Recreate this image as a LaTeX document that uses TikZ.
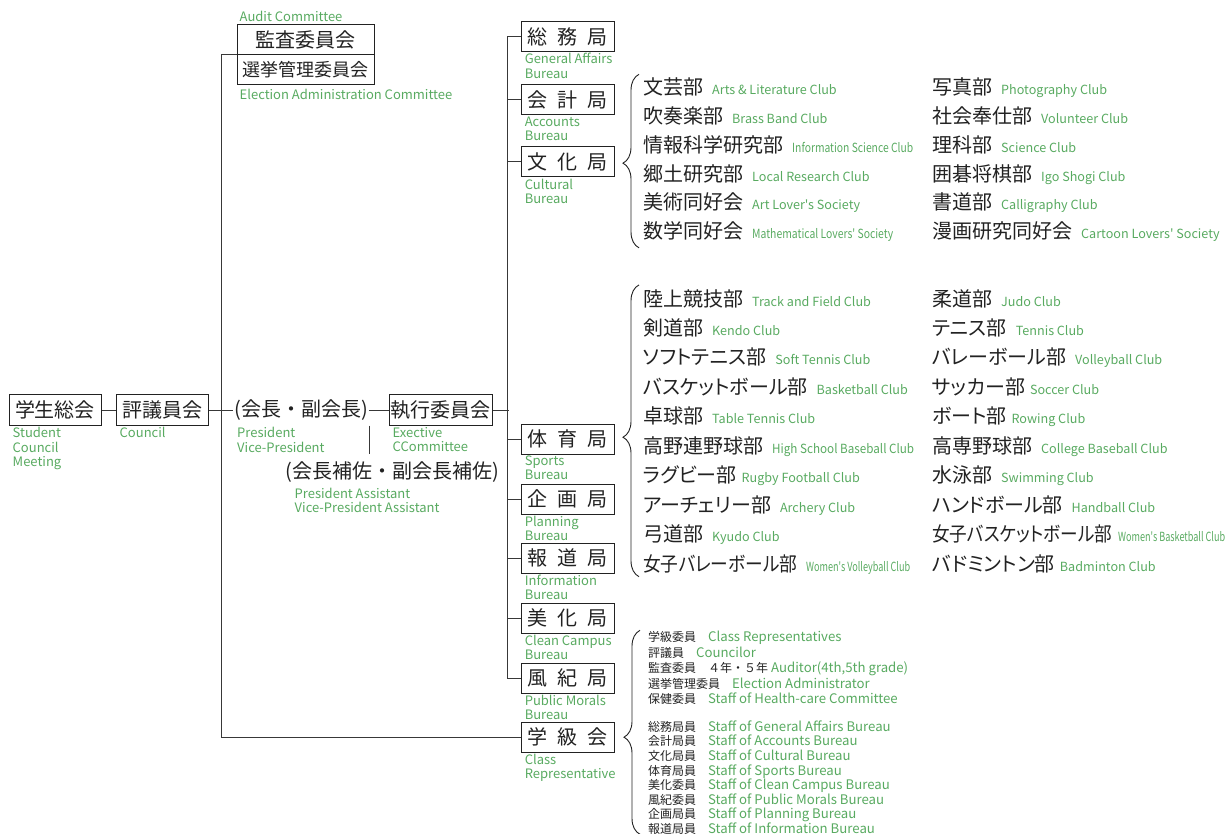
\documentclass[tikz,border=0pt]{standalone}
\usepackage{fontspec}
\setmainfont{Noto Sans CJK JP}
\newfontfamily\jpprop{Noto Sans CJK JP}[RawFeature=+palt]
\usepackage{graphicx}
\usetikzlibrary{matrix,positioning,calc,decorations.pathreplacing}
\setlength{\parindent}{0pt}

\definecolor{engreen}{RGB}{88,170,96}
\definecolor{ink}{RGB}{34,34,34}

\newcommand\eng[2][12.6]{{\color{engreen}\fontsize{#1}{#1}\selectfont #2}}
\newcommand\engw[2]{{\color{engreen}\fontsize{12.6}{12.6}\selectfont\resizebox{#1}{\height}{#2}}}
\newcommand\club[3][9pt]{#2\hspace{#1}\eng{#3}}
\newcommand\staff[2]{#1\quad\eng[13.2]{#2}}
\newcommand\kyoku[3]{#1\hspace{10pt}#2\hspace{10pt}#3}

\begin{document}
\begin{tikzpicture}[x=1pt, y=-1pt,
  org/.style={draw=ink, line width=1pt, text=ink, inner sep=0pt,
    font=\fontsize{20}{24}\selectfont, minimum height=31pt},
  bureau/.style={org, minimum width=93pt, minimum height=30pt},
  lab/.style={anchor=north west, inner sep=1pt, align=left, text=engreen,
    font=\fontsize{13}{14.5}\selectfont},
  plain/.style={text=ink, inner sep=1pt, font=\fontsize{20}{24}\selectfont},
  conn/.style={draw=ink!90, line width=1pt},
  clubs/.style={matrix of nodes, anchor=north west, inner sep=0pt,
    nodes={anchor=base west, inner sep=0pt, text=ink, font=\jpprop\fontsize{20}{24}\selectfont}},
  brc/.style={decorate, decoration={brace, amplitude=16pt, aspect=#1}, draw=ink, line width=0.9pt}]

\useasboundingbox (0,0) rectangle (1232,834);

% left side
\node[org, minimum width=92pt] (taikai) at (55,410) {学生総会};
\node[lab] (taikai-en) at ([xshift=3pt]taikai.south west) {Student\\Council\\Meeting};
\node[org, minimum width=92pt] (hyogi) at (162,410) {評議員会};
\node[lab] (hyogi-en) at ([xshift=3pt]hyogi.south west) {Council};
\node[plain] (kaicho) at (301,410) {(会長・副会長)};
\node[lab] (kaicho-en) at ($(kaicho.west |- taikai.south)+(3,0)$) {President\\Vice-President};
\node[org, minimum width=103pt] (shikko) at (440.5,410) {執行委員会};
\node[lab] (shikko-en) at ([xshift=3pt]shikko.south west) {Exective\\CCommittee};
\node[plain] (hosa) at (392.5,472) {(会長補佐・副会長補佐)};
\node[lab] (hosa-en) at ($(hosa.south west)+(9,3)$) {President Assistant\\Vice-President Assistant};

% committees
\node[org, minimum width=137pt, minimum height=30pt] (kansa) at (305.5,40) {監査委員会};
\node[org, minimum width=137pt, minimum height=30pt, font=\fontsize{18}{22}\selectfont] (senkyo) at (305.5,70) {選挙管理委員会};
\node[lab, anchor=south west] (kansa-en) at ([xshift=2pt,yshift=2pt]kansa.north west) {Audit Committee};
\node[lab] (senkyo-en) at ([xshift=2pt,yshift=-2pt]senkyo.south west) {Election Administration Committee};

% bureaus
\foreach \name/\y/\ja/\enlab in {
    soumu/36.7/{\kyoku{総}{務}{局}}/{General Affairs\\Bureau},
    kaikei/100/{\kyoku{会}{計}{局}}/{Accounts\\Bureau},
    bunka/162/{\kyoku{文}{化}{局}}/{Cultural\\Bureau},
    taiiku/439/{\kyoku{体}{育}{局}}/{Sports\\Bureau},
    kikaku/499/{\kyoku{企}{画}{局}}/{Planning\\Bureau},
    houdou/558/{\kyoku{報}{道}{局}}/{Information\\Bureau},
    bika/618/{\kyoku{美}{化}{局}}/{Clean Campus\\Bureau},
    fuki/678/{\kyoku{風}{紀}{局}}/{Public Morals\\Bureau},
    gakkyu/737/{\kyoku{学}{級}{会}}/{Class\\Representative}} {
  \node[bureau] (\name) at (567.6,\y) {\ja};
  \node[lab] (\name-en) at ([xshift=3pt]\name.south west) {\enlab};
}

% connectors
\draw[conn] (taikai) -- (hyogi);
\draw[conn] (hyogi) -- (kaicho);
\draw[conn] (kaicho) -- (shikko);
\draw[conn] ($(kaicho.south east)+(1,4)$) -- ($(kaicho.south east |- hosa.north)+(1,-6)$);
\draw[conn] (senkyo.north west) -- ++(-15,0) coordinate (trunk) |- (gakkyu.west);
\draw[conn] (shikko.east) -- ++(16,0) coordinate (bus);
\draw[conn] (soumu.west) -- ++(-13,0) |- (fuki.west);
\foreach \name in {kaikei,bunka,taiiku,kikaku,houdou,bika}
  \draw[conn] (\name.west) -- ++(-13,0);

% cultural clubs
\matrix (cul) [clubs, nodes={text height=20pt, text depth=8.86pt}] at (643,74.3) {
  \club{文芸部}{Arts \& Literature Club}\\
  \club{吹奏楽部}{Brass Band Club}\\
  情報科学研究部\hspace{9pt}\engw{121pt}{Information Science Club}\\
  \club{郷土研究部}{Local Research Club}\\
  \club{美術同好会}{Art Lover's Society}\\
  数学同好会\hspace{9pt}\engw{141pt}{Mathematical Lovers' Society}\\
};
\matrix (cul-r) [clubs, nodes={text height=20pt, text depth=8.86pt}] at (932,74.3) {
  \club{写真部}{Photography Club}\\
  \club{社会奉仕部}{Volunteer Club}\\
  \club{理科部}{Science Club}\\
  \club{囲碁将棋部}{Igo Shogi Club}\\
  \club{書道部}{Calligraphy Club}\\
  \club{漫画研究同好会}{Cartoon Lovers' Society}\\
};

% sports clubs
\matrix (spt) [clubs, nodes={text height=20pt, text depth=9.44pt}] at (643,285.9) {
  \club{陸上競技部}{Track and Field Club}\\
  \club{剣道部}{Kendo Club}\\
  \club{ソフトテニス部}{Soft Tennis Club}\\
  \club{バスケットボール部}{Basketball Club}\\
  \club{卓球部}{Table Tennis Club}\\
  高野連野球部\hspace{9pt}\engw{142pt}{High School Baseball Club}\\
  \club[5pt]{ラグビー部}{Rugby Football Club}\\
  \club{アーチェリー部}{Archery Club}\\
  \club{弓道部}{Kyudo Club}\\
  \resizebox{154pt}{\height}{女子バレーボール部}\hspace{9pt}\engw{104pt}{Women's Volleyball Club}\\
};
\matrix (spt-r) [clubs, nodes={text height=20pt, text depth=9.44pt}] at (932,285.9) {
  \club{柔道部}{Judo Club}\\
  \club{テニス部}{Tennis Club}\\
  \club{バレーボール部}{Volleyball Club}\\
  \club[5pt]{サッカー部}{Soccer Club}\\
  \club[5pt]{ボート部}{Rowing Club}\\
  \club{高専野球部}{College Baseball Club}\\
  \club{水泳部}{Swimming Club}\\
  \club{ハンドボール部}{Handball Club}\\
  \resizebox{180pt}{\height}{女子バスケットボール部}\hspace{6pt}\engw{107pt}{Women's Basketball Club}\\
  \club[5pt]{バドミントン部}{Badminton Club}\\
};

% class representatives
\matrix (cls) [clubs, nodes={text height=11pt, text depth=3.6pt, font=\fontsize{12}{14}\selectfont}] at (648,630.3) {
  \staff{学級委員}{Class Representatives}\\[1pt]
  \staff{評議員}{Councilor}\\[1pt]
  監査委員\quad ４年・５年\hspace{3pt}\eng[13.2]{Auditor(4th,5th grade)}\\[1pt]
  \staff{選挙管理委員}{Election Administrator}\\[1pt]
  \staff{保健委員}{Staff of Health-care Committee}\\[12.8pt]
  \staff{総務局員}{Staff of General Affairs Bureau}\\
  \staff{会計局員}{Staff of Accounts Bureau}\\
  \staff{文化局員}{Staff of Cultural Bureau}\\
  \staff{体育局員}{Staff of Sports Bureau}\\
  \staff{美化委員}{Staff of Clean Campus Bureau}\\
  \staff{風紀委員}{Staff of Public Morals Bureau}\\
  \staff{企画局員}{Staff of Planning Bureau}\\
  \staff{報道局員}{Staff of Information Bureau}\\
};

% braces
\draw[brc=0.488] ($(cul.south west)+(-4,0)$) -- ($(cul.north west)+(-4,0)$);
\draw[brc=0.478] ($(spt.south west)+(-4,-4)$) -- ($(spt.north west)+(-4,-1)$);
\draw[brc=0.476] ($(cls.south west)+(-8,-3)$) -- ($(cls.north west)+(-8,0)$);
\end{tikzpicture}
\end{document}
